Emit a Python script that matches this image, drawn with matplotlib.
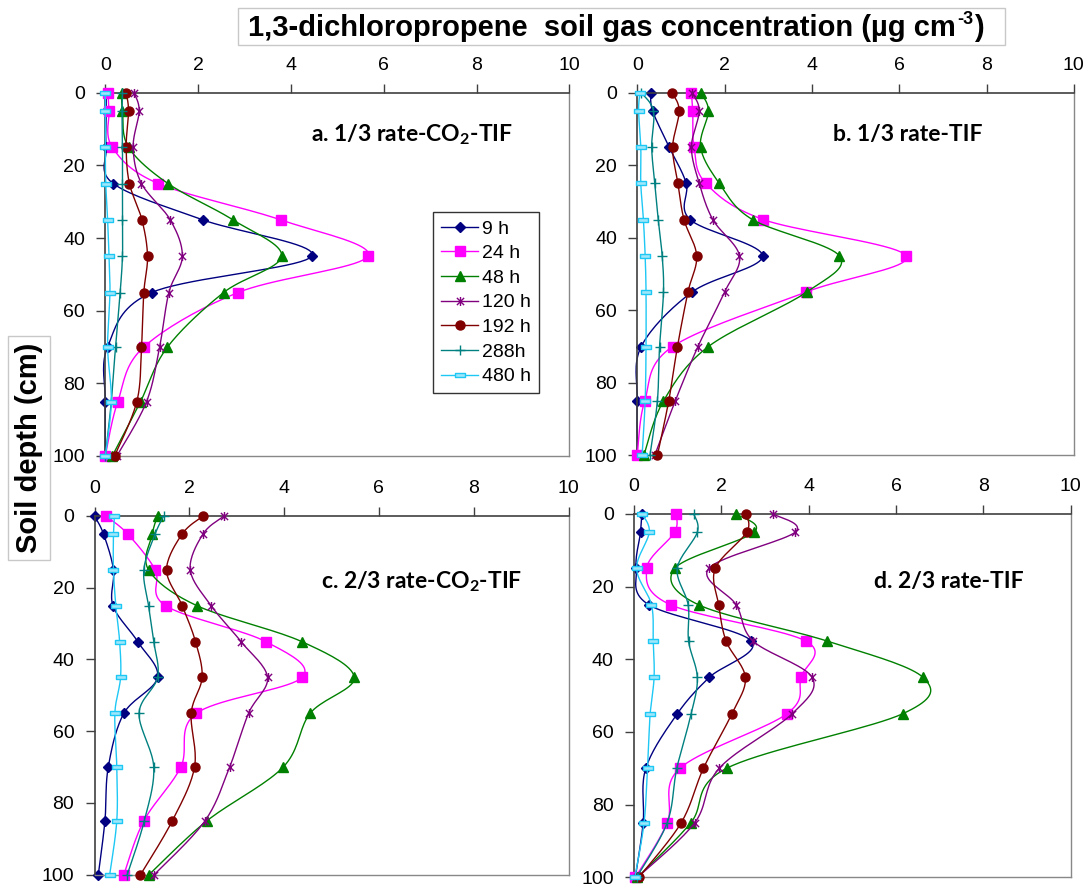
import numpy as np
import matplotlib
matplotlib.use("Agg")
import matplotlib.pyplot as plt
from matplotlib.path import Path
from matplotlib.patches import Rectangle

# ---------------- data ----------------
depth = [0, 5, 15, 25, 35, 45, 55, 70, 85, 100]
series_labels = ["9 h", "24 h", "48 h", "120 h", "192 h", "288h", "480 h"]

# panel a: 1/3 rate-CO2-TIF
a_9h   = [0.02, 0.02, 0.02, 0.17, 2.10, 4.45, 1.00, 0.05, 0.00, 0.00]
a_24h  = [0.06, 0.08, 0.15, 1.14, 3.78, 5.66, 2.86, 0.83, 0.27, 0.00]
a_48h  = [0.35, 0.37, 0.50, 1.35, 2.75, 3.80, 2.55, 1.34, 0.76, 0.15]
a_120h = [0.62, 0.73, 0.60, 0.78, 1.40, 1.66, 1.37, 1.17, 0.89, 0.25]
a_192h = [0.45, 0.50, 0.45, 0.52, 0.79, 0.91, 0.83, 0.78, 0.68, 0.20]
a_288h = [0.37, 0.36, 0.37, 0.37, 0.37, 0.37, 0.32, 0.22, 0.13, 0.00]
a_480h = [0.00, 0.00, 0.00, 0.01, 0.05, 0.08, 0.10, 0.05, 0.13, 0.00]

# panel b: 1/3 rate-TIF
b_9h   = [0.31, 0.35, 0.73, 1.12, 1.21, 2.87, 1.25, 0.09, 0.00, 0.00]
b_24h  = [1.24, 1.27, 1.30, 1.57, 2.89, 6.16, 3.86, 0.81, 0.17, 0.00]
b_48h  = [1.45, 1.63, 1.45, 1.88, 2.64, 4.63, 3.88, 1.63, 0.60, 0.15]
b_120h = [1.25, 1.42, 1.24, 1.42, 1.73, 2.34, 2.00, 1.39, 0.87, 0.40]
b_192h = [0.80, 0.96, 0.81, 0.93, 1.07, 1.36, 1.16, 0.92, 0.72, 0.46]
b_288h = [0.09, 0.37, 0.33, 0.40, 0.48, 0.57, 0.60, 0.51, 0.46, 0.29]
b_480h = [0.06, 0.03, 0.08, 0.08, 0.14, 0.18, 0.20, 0.20, 0.18, 0.11]

# panel c: 2/3 rate-CO2-TIF
c_9h   = [0.00, 0.19, 0.40, 0.39, 0.91, 1.33, 0.62, 0.29, 0.22, 0.08]
c_24h  = [0.24, 0.70, 1.28, 1.50, 3.61, 4.38, 2.15, 1.82, 1.04, 0.62]
c_48h  = [1.33, 1.22, 1.14, 2.16, 4.37, 5.48, 4.55, 3.98, 2.37, 1.15]
c_120h = [2.73, 2.29, 2.02, 2.46, 3.09, 3.65, 3.25, 2.85, 2.33, 1.26]
c_192h = [2.29, 1.85, 1.52, 1.85, 2.13, 2.27, 2.04, 2.11, 1.64, 0.97]
c_288h = [1.46, 1.28, 1.04, 1.14, 1.25, 1.33, 0.94, 1.25, 1.05, 0.69]
c_480h = [0.42, 0.40, 0.40, 0.45, 0.53, 0.55, 0.43, 0.47, 0.47, 0.32]

# panel d: 2/3 rate-TIF
d_9h   = [0.18, 0.15, 0.05, 0.34, 2.69, 1.72, 0.99, 0.27, 0.21, 0.03]
d_24h  = [0.96, 0.93, 0.29, 0.84, 3.94, 3.82, 3.50, 1.05, 0.76, 0.03]
d_48h  = [2.34, 2.75, 0.93, 1.48, 4.43, 6.62, 6.15, 2.12, 1.30, 0.08]
d_120h = [3.19, 3.69, 1.71, 2.34, 2.73, 4.08, 3.62, 1.95, 1.39, 0.08]
d_192h = [2.57, 2.58, 1.86, 1.94, 2.11, 2.55, 2.24, 1.59, 1.08, 0.11]
d_288h = [1.37, 1.45, 0.99, 1.24, 1.25, 1.45, 1.31, 0.98, 0.76, 0.06]
d_480h = [0.18, 0.35, 0.06, 0.40, 0.44, 0.46, 0.37, 0.31, 0.23, 0.02]

panel_titles = ["a. 1/3 rate-CO$_\\mathbf{2}$-TIF", "b. 1/3 rate-TIF",
                "c. 2/3 rate-CO$_\\mathbf{2}$-TIF", "d. 2/3 rate-TIF"]
x_ticks = [0, 2, 4, 6, 8, 10]
y_ticks = [0, 20, 40, 60, 80, 100]
header_main = "1,3-dichloropropene  soil gas concentration (µg cm"
header_sup = "-3"
header_end = ")"
ylabel = "Soil depth (cm)"

# ---------------- fonts ----------------
plt.rcParams["font.family"] = ["Liberation Sans", "DejaVu Sans"]
plt.rcParams["mathtext.fontset"] = "custom"
plt.rcParams["mathtext.rm"] = "Lato"
plt.rcParams["mathtext.bf"] = "Lato:bold"

# ---------------- styles ----------------
colors = ["#000080", "#FF00FF", "#008000", "#800080", "#800000", "#008080", "#1EC8F5"]
star = Path([(-1, -1), (1, 1), (-1, 1), (1, -1), (0, -1.25), (0, 1.25)],
            [Path.MOVETO, Path.LINETO, Path.MOVETO, Path.LINETO, Path.MOVETO, Path.LINETO])
dash = Path([(-1, -0.4), (1, -0.4), (1, 0.4), (-1, 0.4), (-1, -0.4)],
            [Path.MOVETO, Path.LINETO, Path.LINETO, Path.LINETO, Path.CLOSEPOLY])
mk = [dict(marker="D", ms=5, mfc=colors[0], mec=colors[0]),
      dict(marker="s", ms=6.5, mfc=colors[1], mec=colors[1]),
      dict(marker="^", ms=6.5, mfc=colors[2], mec=colors[2]),
      dict(marker=star, ms=6.5, mfc="none", mec=colors[3], mew=1.0),
      dict(marker="o", ms=6.5, mfc=colors[4], mec=colors[4]),
      dict(marker="+", ms=6.5, mec=colors[5], mew=1.0),
      dict(marker=dash, ms=6.5, mfc="#9EE6FA", mec=colors[6], mew=1.0)]


def smooth(xs, ys, sx=46.4, sy=3.63, n=20):
    """Catmull-Rom style smoothing through the data points (like Excel smoothed lines)."""
    P = np.column_stack([np.asarray(xs) * sx, np.asarray(ys) * sy])
    out = [P[0]]
    m = len(P)
    for i in range(m - 1):
        p0 = P[i - 1] if i > 0 else P[i]
        p1 = P[i]
        p2 = P[i + 1]
        p3 = P[i + 2] if i + 2 < m else P[i + 1]
        c1 = p1 + (p2 - p0) / 6.0
        c2 = p2 - (p3 - p1) / 6.0
        t = np.linspace(0, 1, n)[1:, None]
        seg = ((1 - t) ** 3) * p1 + 3 * ((1 - t) ** 2) * t * c1 + 3 * (1 - t) * t ** 2 * c2 + t ** 3 * p2
        out.extend(seg)
    out = np.array(out)
    return out[:, 0] / sx, out[:, 1] / sy


panels = [
    [a_9h, a_24h, a_48h, a_120h, a_192h, a_288h, a_480h],
    [b_9h, b_24h, b_48h, b_120h, b_192h, b_288h, b_480h],
    [c_9h, c_24h, c_48h, c_120h, c_192h, c_288h, c_480h],
    [d_9h, d_24h, d_48h, d_120h, d_192h, d_288h, d_480h],
]

W, H = 1085, 886
boxes_px = [(105.3, 92.7, 569.3, 456.0),
            (637.3, 92.7, 1073.8, 455.3),
            (94.5, 516.0, 568.5, 874.7),
            (634.0, 514.0, 1070.7, 877.3)]
title_pos = [(0.66, 0.886), (0.62, 0.886), (0.69, 0.817), (0.72, 0.814)]

fig = plt.figure(figsize=(W / 100, H / 100), dpi=100)

for k, (l, t, r, b) in enumerate(boxes_px):
    ax = fig.add_axes([l / W, 1 - b / H, (r - l) / W, (b - t) / H])
    handles = []
    for j, vals in enumerate(panels[k]):
        sx, sy = smooth(vals, depth)
        ax.plot(sx, sy, color=colors[j], lw=1.0, clip_on=False, zorder=2 + j)
        ax.plot(vals, depth, ls="none", clip_on=False, zorder=2 + j, **mk[j])
        h, = ax.plot([], [], color=colors[j], lw=1.0, **mk[j])
        handles.append(h)
    ax.set_xlim(0, 10)
    ax.set_ylim(100, 0)
    ax.set_xticks(x_ticks)
    ax.set_yticks(y_ticks)
    ax.xaxis.tick_top()
    ax.tick_params(axis="x", direction="out", length=6.5, width=1, pad=7, labelsize=14,
                   color="#404040")
    ax.tick_params(axis="y", direction="out", length=6.5, width=1, pad=8, labelsize=14,
                   color="#404040")
    for s in ["left", "top"]:
        ax.spines[s].set_color("#404040")
        ax.spines[s].set_linewidth(1.2)
    for s in ["right", "bottom"]:
        ax.spines[s].set_color("#888888")
        ax.spines[s].set_linewidth(1.0)
    ax.text(title_pos[k][0], title_pos[k][1], panel_titles[k], transform=ax.transAxes,
            ha="center", va="center", fontsize=16.5, fontweight="bold", family="Lato")
    if k == 0:
        leg = ax.legend(handles, series_labels, loc="upper left",
                        bbox_to_anchor=(0.706, 0.672), fontsize=14, frameon=True,
                        fancybox=False, edgecolor="black", handlelength=1.9,
                        handletextpad=0.2, labelspacing=0.36, borderpad=0.42,
                        borderaxespad=0.0)
        leg.get_frame().set_linewidth(1.0)

# header box and text (superscript placed after the measured main text)
fig.patches.append(Rectangle((238 / W, 1 - 45 / H), (1005 - 238) / W, 37 / H,
                             transform=fig.transFigure, fc="white", ec="#C8C8C8", lw=1,
                             zorder=0))
renderer = fig.canvas.get_renderer()
t_main = fig.text(248 / W, 1 - 36 / H, header_main, ha="left", va="baseline",
                  fontsize=21, fontweight="bold")
bb = t_main.get_window_extent(renderer)
t_sup = fig.text((bb.x1 + 1) / W, 1 - 24 / H, header_sup, ha="left", va="baseline",
                 fontsize=13, fontweight="bold")
bb2 = t_sup.get_window_extent(renderer)
fig.text((bb2.x1 + 1) / W, 1 - 36 / H, header_end, ha="left", va="baseline",
         fontsize=21, fontweight="bold")

fig.text(29 / W, 1 - 448 / H, ylabel, ha="center", va="center", rotation=90,
         fontsize=21, fontweight="bold",
         bbox=dict(boxstyle="square,pad=0.25", fc="white", ec="#C8C8C8", lw=1))

fig.savefig("out.png", dpi=100)
